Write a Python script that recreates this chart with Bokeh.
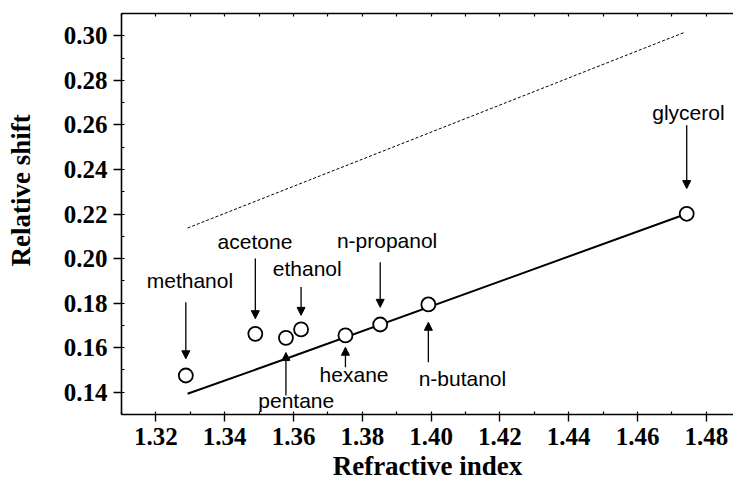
from bokeh.plotting import figure
from bokeh.models import (LinearAxis, SingleIntervalTicker, FixedTicker, PrintfTickFormatter,
                          CustomJSTickFormatter, Arrow, NormalHead, LabelSet,
                          ColumnDataSource, Range1d)
from bokeh.core.properties import value
from bokeh.embed import file_html
from bokeh.resources import INLINE

# Measured solvents: refractive index vs relative shift
solvents = ["methanol", "acetone", "pentane", "ethanol", "hexane",
            "n-propanol", "n-butanol", "glycerol"]
refr_index = [1.3287, 1.3489, 1.3578, 1.3622, 1.3751, 1.3852, 1.3992, 1.4743]
rel_shift = [0.1475, 0.1662, 0.1644, 0.1682, 0.1655, 0.1704, 0.1794, 0.2201]

# Fitted trend (solid) and model curve (dashed)
fit_x = [1.3292, 1.3578, 1.4743]
fit_y = [0.1393, 0.1550, 0.2201]
model_x = [1.3292, 1.4736]
model_y = [0.2137, 0.3015]

# Annotation placement: label centre / baseline and arrow tail / tip (data units)
label_x = [1.3299, 1.3488, 1.3608, 1.3640, 1.3776, 1.3872, 1.4091, 1.4748]
label_y = [0.1866, 0.2044, 0.1327, 0.1920, 0.1445, 0.2046, 0.1430, 0.2624]
arrow_tail = [0.1804, 0.2000, 0.1385, 0.1872, 0.1512, 0.1983, 0.1535, 0.2598]
arrow_tip = [0.1550, 0.1730, 0.1578, 0.1745, 0.1602, 0.1781, 0.1714, 0.2314]

x_title = "Refractive index"
y_title = "Relative shift"

SERIF = "Liberation Serif"
SANS = "Liberation Sans"
TICK_SIZE = "25px"

p = figure(width=733, height=490, output_backend="svg", toolbar_location=None,
           x_range=Range1d(1.31, 1.4879), y_range=Range1d(0.13, 0.31),
           min_border_left=121, min_border_right=0, min_border_top=13,
           min_border_bottom=76)
p.outline_line_color = None
p.grid.visible = False
p.background_fill_color = "white"
p.border_fill_color = "white"

# bottom axis
xa = p.xaxis[0]
xa.ticker = SingleIntervalTicker(interval=0.02, num_minor_ticks=2)
xa.formatter = PrintfTickFormatter(format="%.2f")
xa.major_label_text_font = SERIF
xa.major_label_text_font_style = "bold"
xa.major_label_text_font_size = TICK_SIZE
xa.major_label_text_color = "black"
xa.major_label_standoff = 6
xa.axis_line_width = 1.6
xa.major_tick_line_width = 1.4
xa.minor_tick_line_width = 1.2
xa.major_tick_out = 7
xa.major_tick_in = 0
xa.minor_tick_out = 0
xa.minor_tick_in = 3
xa.axis_label = x_title
xa.axis_label_text_font = SERIF
xa.axis_label_text_font_style = "bold"
xa.axis_label_text_font_size = "27px"
xa.axis_label_text_color = "black"
xa.axis_label_standoff = 3

# left axis
ya = p.yaxis[0]
ya.ticker = SingleIntervalTicker(interval=0.02, num_minor_ticks=2)
ya.formatter = PrintfTickFormatter(format="%.2f")
ya.major_label_text_font = SERIF
ya.major_label_text_font_style = "bold"
ya.major_label_text_font_size = TICK_SIZE
ya.major_label_text_color = "black"
ya.major_label_standoff = 6
ya.axis_line_width = 1.6
ya.major_tick_line_width = 1.4
ya.minor_tick_line_width = 1.2
ya.major_tick_out = 8
ya.major_tick_in = 0
ya.minor_tick_out = 0
ya.minor_tick_in = 3

# y title on a bare outer axis; leading no-break spaces lift it above the centre
title_axis = LinearAxis(ticker=FixedTicker(ticks=[]),
                        axis_line_color=None, major_tick_line_color=None,
                        minor_tick_line_color=None,
                        axis_label="\u00a0" * 7 + y_title, axis_label_standoff=25,
                        axis_label_text_font=SERIF, axis_label_text_font_style="bold",
                        axis_label_text_font_size="27px", axis_label_text_color="black")
p.add_layout(title_axis, "left")

# top frame edge with small inward ticks
top = LinearAxis(ticker=SingleIntervalTicker(interval=0.01, num_minor_ticks=0),
                 formatter=CustomJSTickFormatter(code="return ''"),
                 major_label_standoff=0,
                 major_tick_in=3, major_tick_out=0, minor_tick_in=0, minor_tick_out=0,
                 axis_line_width=1.6, major_tick_line_width=1.2)
p.add_layout(top, "above")

# curves
p.line(model_x, model_y, line_color="black", line_width=1, line_dash="3 2")
p.line(fit_x, fit_y, line_color="black", line_width=2)

# points
p.scatter(refr_index, rel_shift, marker="circle", size=14, fill_color="white",
          line_color="black", line_width=1.8)

# arrows and solvent names
arr_src = ColumnDataSource(dict(x=refr_index, y0=arrow_tail, y1=arrow_tip))
p.add_layout(Arrow(source=arr_src, x_start="x", y_start="y0", x_end="x", y_end="y1",
                   line_color="black", line_width=1.3,
                   end=NormalHead(size=8, fill_color="black", line_color="black",
                                  line_width=1)))

lab_src = ColumnDataSource(dict(x=label_x, y=label_y, t=solvents))
p.add_layout(LabelSet(source=lab_src, x="x", y="y", text="t",
                      text_font=value(SANS), text_font_size=value("21px"),
                      text_color="black", text_align="center",
                      text_baseline="alphabetic"))

open("out.html", "w").write(file_html(p, INLINE))
